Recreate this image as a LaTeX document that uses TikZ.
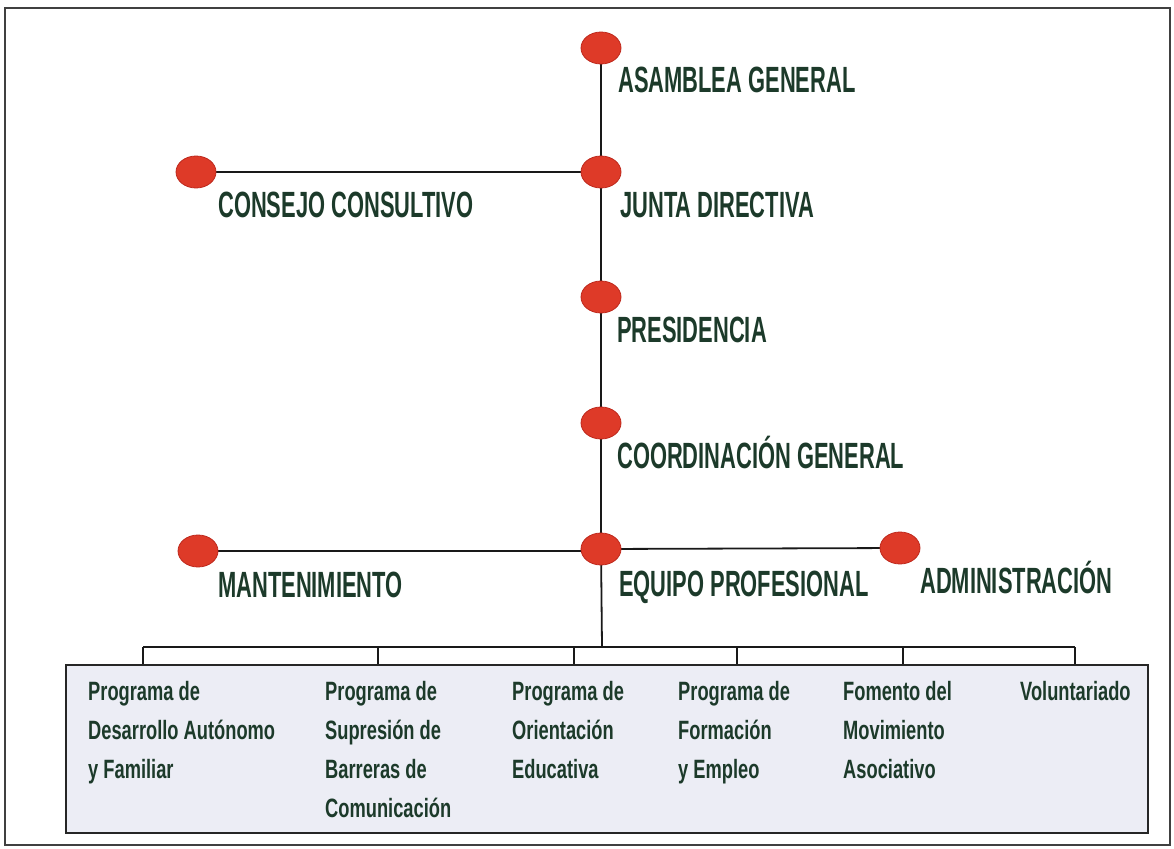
\documentclass[tikz,border=0pt]{standalone}
\usepackage{fontspec}
\usetikzlibrary{shapes.geometric,backgrounds}
\newfontfamily\headfont[FakeStretch=0.6]{Liberation Sans Bold}
\newfontfamily\progfont[FakeStretch=0.69]{Liberation Sans Bold}
\definecolor{txtgreen}{RGB}{28,58,42}
\definecolor{dotred}{RGB}{222,58,40}
\definecolor{dotedge}{RGB}{190,40,28}
\definecolor{boxfill}{RGB}{236,237,245}
\begin{document}
\begin{tikzpicture}[x=1pt,y=-1pt,
  dot/.style={ellipse,fill=dotred,draw=dotedge,line width=0.8pt,minimum width=40pt,minimum height=32pt,inner sep=0pt},
  head/.style={anchor=base west,inner sep=0pt,text=txtgreen,font=\headfont\fontsize{36.5}{40}\selectfont},
  prog/.style={anchor=north west,inner sep=0pt,align=left,text=txtgreen,font=\progfont\fontsize{26.5}{39}\selectfont},
  conn/.style={line width=1.8pt,draw=black!90}]
\useasboundingbox (0,0) rectangle (1174,848);
\draw[line width=2pt,draw=black!75] (5,8) rectangle (1170,845);

% dots
\node[dot] (asam) at (601,48) {};
\node[dot] (junta) at (601,172) {};
\node[dot] (pres) at (601,297) {};
\node[dot] (coord) at (601,423) {};
\node[dot] (equipo) at (601,549) {};
\node[dot] (cons) at (196,172) {};
\node[dot] (mant) at (198,551) {};
\node[dot] (admin) at (900,548) {};

% labels
\node[head] (lasam) at (618,93) {ASAMBLEA GENERAL};
\node[head] (ljunta) at (620,217) {JUNTA DIRECTIVA};
\node[head] (lcons) at (218,217) {CONSEJO CONSULTIVO};
\node[head] (lpres) at (617,342) {PRESIDENCIA};
\node[head] (lcoord) at (617,468) {COORDINACIÓN GENERAL};
\node[head] (lmant) at (218,597) {MANTENIMIENTO};
\node[head] (lequipo) at (619,596) {EQUIPO PROFESIONAL};
\node[head] (ladmin) at (920,593) {ADMINISTRACIÓN};

% program box
\node[draw=black!85,line width=2pt,fill=boxfill,minimum width=1082pt,minimum height=168pt,inner sep=0pt] (box) at (607,749) {};

\node[prog] (p1) at (88,681) {Programa de\\Desarrollo Autónomo\\y Familiar};
\node[prog] (p2) at (325,681) {Programa de\\Supresión de\\Barreras de\\Comunicación};
\node[prog] (p3) at (512,681) {Programa de\\Orientación\\Educativa};
\node[prog] (p4) at (678,681) {Programa de\\Formación\\y Empleo};
\node[prog] (p5) at (843,681) {Fomento del\\Movimiento\\Asociativo};
\node[prog] (p6) at (1020,681) {Voluntariado};

\coordinate (bus) at (602,647);
\coordinate (t1) at (143,647);
\coordinate (t2) at (378,647);
\coordinate (t3) at (574,647);
\coordinate (t4) at (737,647);
\coordinate (t5) at (903,647);
\coordinate (t6) at (1075,647);

\begin{scope}[on background layer]
\draw[conn] (asam.center) -- (junta.center) -- (pres.center) -- (coord.center) -- (equipo.center) -- (bus);
\draw[conn] (cons.center) -- (junta.center);
\draw[conn] (mant.center) -- (mant.center -| equipo.center);
\draw[conn] (equipo.center) -- (admin.center);
\draw[conn] (t1) -- (t6);
\foreach \t in {t1,t2,t3,t4,t5,t6} \draw[conn] (\t) -- (\t |- box.north);
\end{scope}
\end{tikzpicture}
\end{document}
